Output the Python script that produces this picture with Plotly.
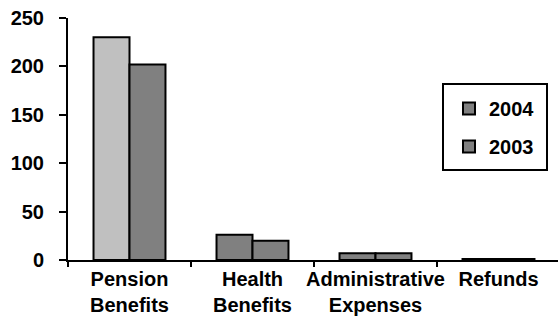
import plotly.graph_objects as go

categories = ["Pension<br>Benefits", "Health<br>Benefits", "Administrative<br>Expenses", "Refunds"]
values_2004 = [230, 26, 7, 1]
values_2003 = [202, 20, 7, 1]
y_ticks = [0, 50, 100, 150, 200, 250]

BAR = "#808080"
HIGHLIGHT = "#c0c0c0"
FONT = dict(family="Arial, Liberation Sans, sans-serif", size=20, color="black", weight="bold")

W, H = 558, 320
ML, MR, MT, MB = 68, 0, 18, 60
plot_w = W - ML - MR
cat_px = 123  # pixel width of one category slot

fig = go.Figure()
fig.add_trace(go.Bar(
    name="2004", x=categories, y=values_2004, legendgroup="a",
    marker=dict(color=BAR, line=dict(color="black", width=2)),
    selectedpoints=[1, 2, 3],
    selected=dict(marker=dict(color=BAR, opacity=1)),
    unselected=dict(marker=dict(color=HIGHLIGHT, opacity=1)),
))
fig.add_trace(go.Bar(
    name="2003", x=categories, y=values_2003, legendgroup="b",
    marker=dict(color=BAR, line=dict(color="black", width=2)),
))

# legend frame
def px_x(p):
    return (p - ML) / plot_w

def px_y(p):
    return (H - MB - p) / (H - MT - MB)

fig.add_shape(type="rect", xref="paper", yref="paper",
              x0=px_x(443), x1=px_x(547), y0=px_y(170), y1=px_y(84),
              line=dict(color="black", width=2), fillcolor="rgba(0,0,0,0)")

fig.update_layout(
    width=W, height=H,
    margin=dict(l=ML, r=MR, t=MT, b=MB, pad=0, autoexpand=False),
    paper_bgcolor="white", plot_bgcolor="white",
    font=FONT,
    barmode="group", bargap=0.415, bargroupgap=0,
    showlegend=True,
    legend=dict(
        x=px_x(449), y=px_y(89), xanchor="left", yanchor="top",
        bgcolor="rgba(0,0,0,0)", borderwidth=0,
        tracegroupgap=9, font=FONT,
    ),
    xaxis=dict(
        range=[-0.5, -0.5 + plot_w / cat_px], automargin=False,
        showline=True, linecolor="black", linewidth=2,
        ticks="outside", tickson="boundaries", ticklen=5, tickwidth=2, tickcolor="black",
        showgrid=False, zeroline=False, tickfont=FONT, tickangle=0,
    ),
    yaxis=dict(
        range=[0, 250], tickvals=y_ticks, automargin=False,
        showline=True, linecolor="black", linewidth=2,
        ticks="outside", ticklen=7, tickwidth=2, tickcolor="black",
        showgrid=False, zeroline=False, tickfont=FONT,
        ticklabelstandoff=11,
    ),
)

fig.write_html("out.html")
